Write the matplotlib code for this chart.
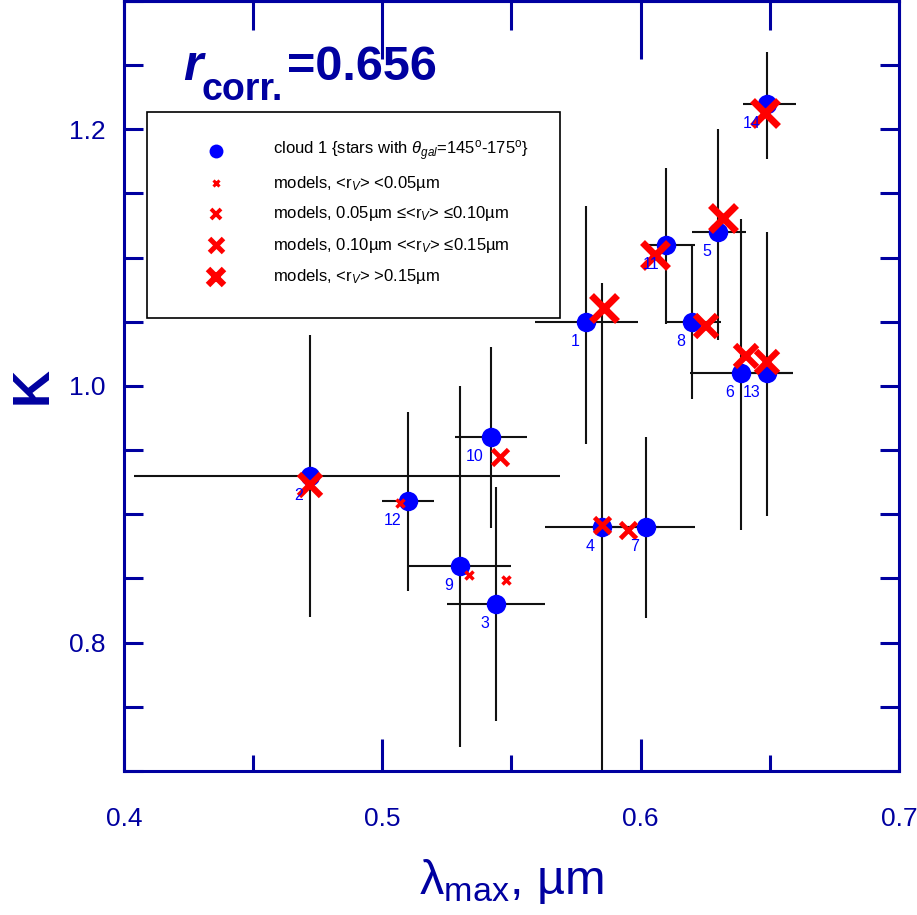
import matplotlib
matplotlib.use("Agg")
import numpy as np
import matplotlib.pyplot as plt
from matplotlib.ticker import MultipleLocator, FixedLocator
from matplotlib.patches import Rectangle

# цвета
navy = "#0000a0"
blue = "#0000ff"
red = "#ff0000"

plt.rcParams["font.family"] = ["Liberation Sans", "DejaVu Sans"]
plt.rcParams["mathtext.fontset"] = "custom"
plt.rcParams["mathtext.rm"] = "Liberation Sans"
plt.rcParams["mathtext.it"] = "Liberation Sans:italic"
plt.rcParams["mathtext.bf"] = "Liberation Sans:bold"

# звёзды облака 1
star = np.arange(1, 15)
lam = np.array([0.579, 0.472, 0.544, 0.585, 0.630, 0.639, 0.602,
                0.620, 0.530, 0.542, 0.610, 0.510, 0.649, 0.649])
K = np.array([1.05, 0.93, 0.83, 0.89, 1.12, 1.01, 0.89,
              1.05, 0.86, 0.96, 1.11, 0.91, 1.01, 1.22])
lam_lo = np.array([0.559, 0.404, 0.525, 0.563, 0.620, 0.619, 0.585,
                   0.610, 0.5095, 0.528, 0.603, 0.500, 0.639, 0.6395])
lam_hi = np.array([0.599, 0.569, 0.563, 0.607, 0.641, 0.659, 0.621,
                   0.631, 0.550, 0.556, 0.621, 0.520, 0.659, 0.660])
K_lo = np.array([0.955, 0.82, 0.739, 0.68, 1.036, 0.888, 0.819,
                 0.99, 0.719, 0.889, 1.048, 0.84, 0.899, 1.177])
K_hi = np.array([1.14, 1.04, 0.921, 1.08, 1.20, 1.13, 0.96,
                 1.11, 1.00, 1.03, 1.17, 0.98, 1.12, 1.26])

# модели
mod_lam = np.array([0.586, 0.472, 0.548, 0.585, 0.632, 0.641, 0.595,
                    0.6255, 0.5335, 0.5455, 0.6054, 0.5068, 0.649, 0.648])
mod_K = np.array([1.061, 0.923, 0.849, 0.892, 1.131, 1.023, 0.888,
                  1.047, 0.853, 0.945, 1.102, 0.909, 1.019, 1.213])
mod_cat = np.array([4, 3, 1, 2, 4, 3, 2, 3, 1, 2, 4, 1, 3, 4])

cross_ms = {1: 6, 2: 12, 3: 16, 4: 19}
cross_mew = {1: 2.5, 2: 3.4, 3: 4.5, 4: 5.0}

legend_labels = [
    r"cloud 1 {stars with $\theta_{gal}$=145$^{\rm o}$-175$^{\rm o}$}",
    r"models, <r$_{V}$> <0.05µm",
    r"models, 0.05µm ≤<r$_{V}$> ≤0.10µm",
    r"models, 0.10µm <<r$_{V}$> ≤0.15µm",
    r"models, <r$_{V}$> >0.15µm",
]
legend_ms = [5, 7, 10, 11.5]
legend_mew = [2.2, 2.8, 3.6, 4.6]

fig = plt.figure(figsize=(9.17, 9.15), dpi=100)
ax = fig.add_axes([0.1352, 0.1574, 0.845, 0.8415])

ax.errorbar(lam, K, xerr=[lam - lam_lo, lam_hi - lam], yerr=[K - K_lo, K_hi - K],
            fmt="none", ecolor="#111111", elinewidth=1.5, capsize=0, zorder=2)
ax.plot(lam, K, "o", color=blue, ms=14, mew=0, zorder=3)
for c in [1, 2, 3, 4]:
    m = mod_cat == c
    ax.plot(mod_lam[m], mod_K[m], "x", color=red, ms=cross_ms[c], mew=cross_mew[c], zorder=4)

for n, x, y in zip(star, lam, K):
    ax.annotate(str(n), (x, y), xytext=(-5, -14), textcoords="offset points",
                ha="right", va="center", color=blue, fontsize=11.5, zorder=5)

ax.set_xlim(0.4, 0.7)
ax.set_ylim(0.7, 1.3)

for s in ax.spines.values():
    s.set_color(navy)
    s.set_linewidth(2.2)

ax.xaxis.set_major_locator(MultipleLocator(0.1))
ax.xaxis.set_minor_locator(MultipleLocator(0.05))
ax.yaxis.set_major_locator(FixedLocator([0.8, 1.0, 1.2]))
ax.yaxis.set_minor_locator(MultipleLocator(0.05))
ax.tick_params(axis="x", which="major", direction="in", length=23, width=2.2,
               colors=navy, labelsize=19, pad=26)
ax.tick_params(axis="x", which="minor", direction="in", length=11.5, width=2.2, colors=navy)
ax.tick_params(axis="y", which="both", direction="in", length=14, width=2.2,
               left=True, right=True, colors=navy, labelsize=19, pad=13)
ax.xaxis.set_major_formatter(plt.FuncFormatter(lambda v, p: f"{v:.1f}"))
ax.yaxis.set_major_formatter(plt.FuncFormatter(lambda v, p: f"{v:.1f}"))

top = ax.secondary_xaxis("top")
top.xaxis.set_major_locator(MultipleLocator(0.1))
top.xaxis.set_minor_locator(MultipleLocator(0.05))
top.tick_params(which="major", direction="in", length=42, width=2.2, colors=navy, labeltop=False)
top.tick_params(which="minor", direction="in", length=21, width=2.2, colors=navy)
top.spines["top"].set_color(navy)
top.spines["top"].set_linewidth(2.2)

ax.set_ylabel("K", fontsize=37, fontweight="bold", color=navy)
ax.yaxis.set_label_coords(-0.085, 0.5)
ax.set_xlabel(r"λ$_{\rm max}$, µm", fontsize=35, color=navy)
ax.xaxis.set_label_coords(0.5, -0.112)

# r_corr
ax.text(0.076, 0.897, "r", transform=ax.transAxes, fontsize=36,
        fontstyle="italic", fontweight="bold", color=navy, va="baseline")
ax.text(0.100, 0.871, "corr.", transform=ax.transAxes, fontsize=27,
        fontweight="bold", color=navy, va="baseline")
ax.text(0.211, 0.897, "=0.656", transform=ax.transAxes, fontsize=35,
        fontweight="bold", color=navy, va="baseline")

# легенда
ax.add_patch(Rectangle((0.0297, 0.5883), 0.533, 0.2675, transform=ax.transAxes,
                       facecolor="white", edgecolor="black", lw=1.2, zorder=6))
rows = [0.8052, 0.7636, 0.7234, 0.6831, 0.6416]
ax.plot(0.1187, rows[0], "o", color=blue, ms=10, mew=0, transform=ax.transAxes, zorder=7)
for i in range(4):
    ax.plot(0.1187, rows[i + 1], "x", color=red, ms=legend_ms[i], mew=legend_mew[i],
            transform=ax.transAxes, zorder=7)
for lab, yy in zip(legend_labels, rows):
    ax.text(0.1923, yy, lab, transform=ax.transAxes, fontsize=12, va="center",
            ha="left", color="black", zorder=7)

fig.savefig("out.png", dpi=100)
